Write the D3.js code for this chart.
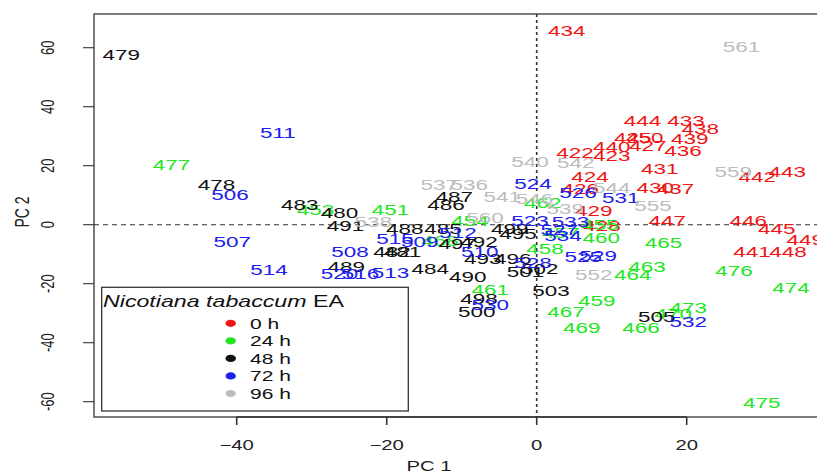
<!DOCTYPE html>
<html>
<head>
<meta charset="utf-8">
<script src="https://cdn.jsdelivr.net/npm/d3@7"></script>
<style>
  html, body { margin: 0; padding: 0; background: #fff; }
  svg { display: block; }
  text { font-family: "Liberation Sans", Arial, Helvetica, sans-serif; }
</style>
</head>
<body>
<svg id="chart" width="817" height="475"></svg>
<script>
// Sample labels and PCA scores (PC1, PC2) for each harvest time
const labels0h  = ["434","444","433","438","425","450","439","427","436","422","440","423","431","424","430","437","426","429","447","428","446","445","449","441","448","442","443"];
const pc1_0h    = [4.0,14.1,19.9,21.8,12.8,14.4,20.4,14.8,19.5,5.1,10.0,10.0,16.4,7.1,15.8,18.5,5.8,7.6,17.4,8.7,28.2,32.0,35.8,28.7,33.5,29.4,33.4];
const pc2_0h    = [66.0,35.5,35.5,32.8,29.7,29.7,29.4,27.0,25.3,24.6,26.6,23.6,19.2,16.2,12.8,12.4,12.4,5.0,1.6,-0.1,1.3,-1.1,-4.9,-8.9,-8.9,16.5,18.2];

const labels24h = ["477","451","453","462","465","476","474","459","467","469","466","473","470","475","463","464","461","460","458","455","454","468","457"];
const pc1_24h   = [-48.7,-19.5,-29.5,0.8,16.9,26.3,33.9,8.0,3.9,6.0,13.9,20.2,18.2,30.0,14.7,12.8,-6.2,8.6,1.1,8.4,-8.9,-12.9,3.2];
const pc2_24h   = [20.6,5.3,5.3,7.7,-5.9,-15.5,-21.4,-25.6,-29.3,-34.7,-34.7,-28.2,-30.0,-60.1,-14.3,-16.7,-21.9,-4.2,-8.2,0.0,1.6,-5.2,-2.5];

const labels48h = ["479","478","483","480","491","488","487","486","485","482","481","497","492","493","484","490","496","495","499","501","502","503","498","500","505","489"];
const pc1_48h   = [-55.4,-42.7,-31.6,-26.3,-25.5,-17.6,-11.0,-12.1,-12.5,-19.3,-17.9,-10.6,-7.7,-7.2,-14.2,-9.2,-3.2,-2.5,-3.6,-1.5,0.4,1.9,-7.7,-8.0,16.0,-25.4];
const pc2_48h   = [57.7,13.8,7.0,4.3,-0.4,-1.1,9.7,7.0,-1.1,-9.2,-9.2,-6.2,-5.5,-11.3,-14.7,-17.4,-11.3,-2.8,-1.1,-15.7,-14.7,-22.3,-24.9,-29.3,-31.0,-14.0];

const labels72h = ["506","507","511","514","508","520","516","513","515","509","512","510","524","523","526","531","530","532","528","529","525","527","533","534"];
const pc1_72h   = [-40.9,-40.6,-34.5,-35.7,-24.9,-26.3,-23.5,-19.5,-18.9,-15.6,-10.5,-7.6,-0.5,-0.9,5.5,11.2,-6.2,20.2,-0.5,8.2,6.2,3.0,4.5,3.5];
const pc2_72h   = [10.4,-5.5,31.4,-15.0,-8.9,-16.4,-16.4,-16.1,-4.5,-5.5,-2.5,-8.9,14.1,1.6,11.0,9.3,-26.9,-32.7,-12.7,-10.3,-10.9,-1.5,1.0,-3.5];

const labels96h = ["561","540","542","559","544","555","539","541","537","536","538","552","560","546"];
const pc1_96h   = [27.3,-0.9,5.2,26.2,10.0,15.5,3.8,-4.6,-13.0,-9.0,-21.8,7.6,-6.9,-0.3];
const pc2_96h   = [60.6,21.5,21.2,18.2,12.8,6.7,5.6,9.7,13.8,13.8,1.2,-16.7,2.6,9.0];

const groupNames  = ["0 h","24 h","48 h","72 h","96 h"];
const groupColors = ["#f01414","#22e622","#111111","#2020ee","#bdbdbd"];

const xTicks = [-40,-20,0,20];
const yTicks = [-60,-40,-20,0,20,40,60];

const legendTitleItalic = "Nicotiana tabaccum";
const legendTitleRest = " EA";
const xLabel = "PC 1";
const yLabel = "PC 2";

// horizontal stretch applied to every glyph
const SX = 1.45;

const groups = [
  [labels0h, pc1_0h, pc2_0h],
  [labels24h, pc1_24h, pc2_24h],
  [labels48h, pc1_48h, pc2_48h],
  [labels72h, pc1_72h, pc2_72h],
  [labels96h, pc1_96h, pc2_96h]
];
const points = [];
groups.forEach(([lab, a, b], gi) => {
  lab.forEach((l, i) => points.push({label: l, pc1: a[i], pc2: b[i], g: gi}));
});

const svg = d3.select("#chart");
const frame = {left: 94, top: 14, bottom: 417, right: 830};

const x = d3.scaleLinear().domain([-40, 0]).range([236.7, 536.7]);
const y = d3.scaleLinear().domain([-60, 60]).range([401.7, 47.7]);

// zero reference lines
svg.append("line")
  .attr("x1", frame.left).attr("x2", frame.right)
  .attr("y1", y(0)).attr("y2", y(0))
  .attr("stroke", "#333").attr("stroke-width", 1.1)
  .attr("stroke-dasharray", "5,4");
svg.append("line")
  .attr("x1", x(0)).attr("x2", x(0))
  .attr("y1", frame.top).attr("y2", frame.bottom)
  .attr("stroke", "#333").attr("stroke-width", 1.6)
  .attr("stroke-dasharray", "3,3");

// sample labels
svg.append("g").selectAll("text")
  .data(points)
  .join("text")
  .attr("transform", d => `translate(${x(d.pc1)},${y(d.pc2)}) scale(${SX},1)`)
  .attr("text-anchor", "middle")
  .attr("dy", "0.36em")
  .attr("font-size", 15.5)
  .attr("fill", d => groupColors[d.g])
  .text(d => d.label);

// plot frame
svg.append("rect")
  .attr("x", frame.left).attr("y", frame.top)
  .attr("width", frame.right - frame.left).attr("height", frame.bottom - frame.top)
  .attr("fill", "none").attr("stroke", "#333").attr("stroke-width", 1.3);

// x axis
const xAxis = svg.append("g").attr("transform", `translate(0,${frame.bottom})`);
xAxis.append("line")
  .attr("x1", x(-40)).attr("x2", x(20)).attr("stroke", "#333").attr("stroke-width", 1.3);
xAxis.selectAll("line.tick").data(xTicks).join("line").attr("class", "tick")
  .attr("x1", d => x(d)).attr("x2", d => x(d)).attr("y1", 0).attr("y2", 8)
  .attr("stroke", "#333").attr("stroke-width", 1.6);
xAxis.selectAll("text").data(xTicks).join("text")
  .attr("transform", d => `translate(${x(d)},28) scale(${SX},1)`)
  .attr("text-anchor", "middle").attr("dy", "0.36em")
  .attr("font-size", 14).attr("fill", "#222")
  .text(d => d < 0 ? "\u2212" + Math.abs(d) : d);

// y axis
const yAxis = svg.append("g").attr("transform", `translate(${frame.left},0)`);
yAxis.selectAll("line.tick").data(yTicks).join("line").attr("class", "tick")
  .attr("x1", -11).attr("x2", 0).attr("y1", d => y(d)).attr("y2", d => y(d))
  .attr("stroke", "#333").attr("stroke-width", 1.1);
yAxis.selectAll("text").data(yTicks).join("text")
  .attr("transform", d => `translate(-47,${y(d)}) scale(${SX},1) rotate(-90)`)
  .attr("text-anchor", "middle").attr("dy", "0.36em")
  .attr("font-size", 13).attr("fill", "#222")
  .text(d => d < 0 ? "-" + Math.abs(d) : d);

// axis titles
svg.append("text")
  .attr("transform", `translate(429,466) scale(${SX},1)`)
  .attr("text-anchor", "middle").attr("dy", "0.36em")
  .attr("font-size", 14).attr("fill", "#222").text(xLabel);
svg.append("text")
  .attr("transform", `translate(22,212) scale(${SX},1) rotate(-90)`)
  .attr("text-anchor", "middle").attr("dy", "0.36em")
  .attr("font-size", 14).attr("fill", "#222").text(yLabel);

// legend
const lg = svg.append("g");
lg.append("rect")
  .attr("x", 101.7).attr("y", 287.3).attr("width", 306.6).attr("height", 123.7)
  .attr("fill", "#fff").attr("stroke", "#333").attr("stroke-width", 1.3);
const title = lg.append("text")
  .attr("transform", `translate(103,301) scale(${SX},1)`)
  .attr("dy", "0.36em").attr("font-size", 16).attr("fill", "#111");
title.append("tspan").attr("font-style", "italic").text(legendTitleItalic);
title.append("tspan").text(legendTitleRest);

const rowY = d3.scalePoint().domain(groupNames).range([323.3, 393.5]);
const items = lg.selectAll("g.item").data(groupNames).join("g").attr("class", "item");
items.append("ellipse")
  .attr("cx", 230.7).attr("cy", d => rowY(d))
  .attr("rx", 3.6 * SX).attr("ry", 3.6)
  .attr("fill", (d, i) => groupColors[i]);
items.append("text")
  .attr("transform", d => `translate(250,${rowY(d)}) scale(${SX},1)`)
  .attr("dy", "0.36em").attr("font-size", 14.5).attr("fill", "#111")
  .text(d => d);
</script>
</body>
</html>
